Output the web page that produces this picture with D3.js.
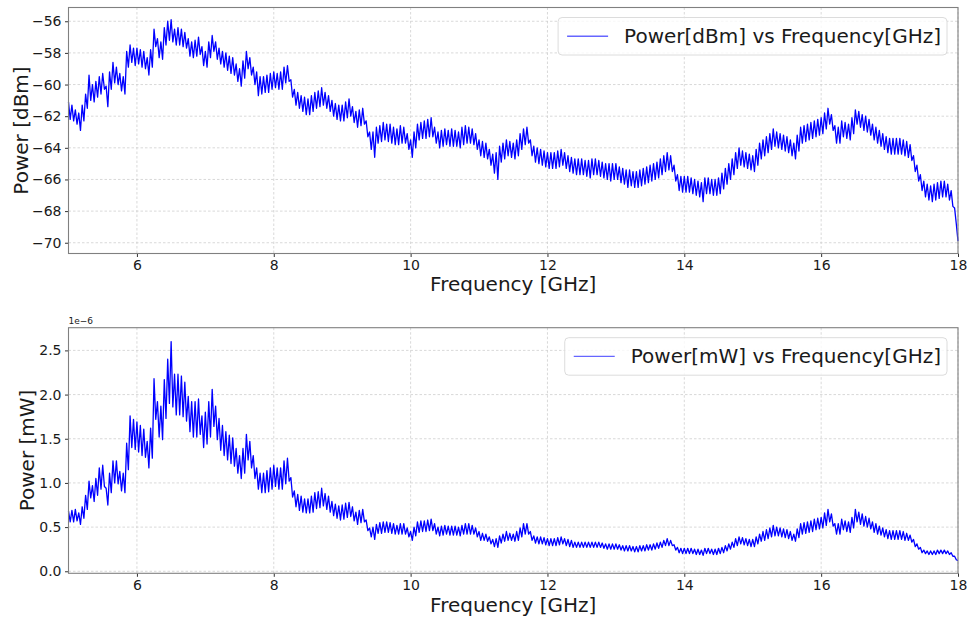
<!DOCTYPE html>
<html lang="en">
<head>
<meta charset="UTF-8">
<title>Power vs Frequency</title>
<script src="https://d3js.org/d3.v7.min.js"></script>
<style>
  body { margin: 0; background: #fff; }
  svg text { font-family: "DejaVu Sans", sans-serif; fill: #1a1a1a; }
</style>
</head>
<body>
<svg id="chart" width="967" height="619"></svg>
<script>
// sweep: 5 GHz to 18 GHz, one reading every 0.025 GHz (each row = 0.5 GHz)
const freqStart = 5;
const freqStep = 0.025;

// Power in dBm
const powerDbm = [
  -61.1,-62.2,-61.3,-62.3,-61.6,-62.5,-61.8,-62.9,-61.3,-62.3,-60.6,-61.5,-59.4,-61.0,-60.0,-61.1,-59.8,-60.8,-59.5,-60.6,
  -59.3,-60.3,-60.1,-61.4,-59.2,-60.3,-58.6,-59.9,-58.9,-60.0,-59.3,-60.4,-59.5,-60.6,-57.9,-58.9,-57.5,-58.6,-57.7,-58.8,
  -57.7,-58.7,-57.8,-58.9,-57.9,-59.0,-58.3,-59.4,-57.8,-58.9,-56.5,-57.6,-57.1,-58.3,-57.3,-58.4,-56.4,-57.5,-56.0,-57.2,
  -55.9,-57.3,-56.5,-57.5,-56.4,-57.5,-56.5,-57.6,-56.7,-57.7,-57.1,-58.2,-57.3,-58.3,-57.2,-58.2,-57.0,-58.1,-57.6,-58.8,
  -57.9,-58.9,-57.3,-58.3,-56.9,-57.9,-57.3,-58.4,-57.7,-58.7,-57.9,-58.9,-58.0,-59.1,-58.2,-59.3,-58.3,-59.4,-58.7,-59.8,
  -59.0,-60.1,-58.5,-59.6,-57.9,-59.0,-58.3,-59.4,-58.9,-60.0,-59.2,-60.7,-59.5,-60.6,-59.5,-60.5,-59.4,-60.5,-59.3,-60.3,
  -59.2,-60.2,-59.3,-60.3,-59.2,-60.3,-58.9,-59.9,-58.8,-59.8,-59.7,-60.8,-60.3,-61.3,-60.5,-61.5,-60.7,-61.7,-60.8,-61.9,
  -60.9,-61.9,-60.7,-61.7,-60.5,-61.5,-60.4,-61.4,-60.2,-61.3,-60.5,-61.5,-60.7,-61.7,-61.0,-62.0,-61.2,-62.2,-61.3,-62.3,
  -61.3,-62.3,-61.1,-62.1,-60.9,-62.0,-61.4,-62.4,-61.7,-62.7,-61.6,-62.6,-61.5,-62.5,-62.3,-63.3,-63.0,-64.1,-63.0,-64.6,
  -62.7,-63.7,-62.6,-63.6,-62.4,-63.5,-62.5,-63.6,-62.5,-63.7,-62.7,-63.8,-62.8,-63.8,-62.6,-63.7,-62.7,-63.7,-63.1,-64.1,
  -63.5,-64.6,-63.0,-64.0,-62.5,-63.5,-62.4,-63.4,-62.3,-63.4,-62.2,-63.3,-62.1,-63.3,-62.7,-63.7,-63.0,-64.0,-62.9,-63.9,
  -62.8,-63.8,-62.9,-63.9,-62.8,-63.9,-62.9,-63.9,-63.0,-64.0,-62.7,-63.8,-62.6,-63.7,-62.7,-63.7,-62.8,-63.8,-63.1,-64.1,
  -63.5,-64.5,-63.6,-64.6,-63.7,-64.7,-64.1,-65.1,-64.4,-65.6,-64.3,-66.0,-63.9,-64.9,-63.7,-64.7,-63.5,-64.5,-63.6,-64.6,
  -63.7,-64.7,-63.5,-64.5,-63.1,-64.1,-62.8,-63.8,-62.7,-63.7,-63.5,-64.5,-63.9,-64.9,-64.0,-65.0,-64.1,-65.1,-64.2,-65.2,
  -64.3,-65.3,-64.3,-65.3,-64.3,-65.3,-64.2,-65.2,-64.1,-65.1,-64.3,-65.3,-64.5,-65.5,-64.6,-65.6,-64.7,-65.7,-64.7,-65.7,
  -64.7,-65.7,-64.8,-65.8,-64.8,-65.9,-64.7,-65.7,-64.7,-65.7,-64.8,-65.8,-64.9,-65.9,-65.0,-66.0,-65.0,-66.1,-65.0,-66.0,
  -65.0,-66.0,-65.2,-66.2,-65.3,-66.3,-65.4,-66.5,-65.4,-66.4,-65.5,-66.5,-65.5,-66.5,-65.4,-66.4,-65.3,-66.3,-65.2,-66.2,
  -65.1,-66.1,-65.0,-66.0,-64.9,-65.9,-64.7,-65.7,-64.5,-65.5,-64.3,-65.4,-64.5,-65.5,-65.1,-66.1,-65.7,-66.7,-65.8,-66.8,
  -65.8,-66.8,-65.8,-66.8,-65.9,-66.9,-66.0,-67.0,-66.1,-67.1,-66.2,-67.4,-65.9,-66.9,-65.9,-66.9,-66.0,-67.0,-66.0,-67.0,
  -65.9,-66.9,-65.6,-66.6,-65.3,-66.3,-65.0,-66.0,-64.7,-65.7,-64.3,-65.3,-64.0,-65.1,-64.2,-65.2,-64.3,-65.3,-64.4,-65.4,
  -64.5,-65.5,-64.1,-65.1,-63.7,-64.7,-63.5,-64.5,-63.3,-64.3,-63.1,-64.1,-62.8,-63.9,-63.0,-64.0,-63.1,-64.1,-63.2,-64.2,
  -63.3,-64.3,-63.5,-64.5,-63.7,-64.7,-63.2,-64.2,-62.7,-63.7,-62.6,-63.6,-62.5,-63.5,-62.4,-63.4,-62.3,-63.3,-62.2,-63.2,
  -62.1,-63.1,-61.8,-62.8,-61.5,-62.5,-61.9,-62.9,-62.6,-63.7,-62.7,-63.7,-62.3,-63.3,-62.4,-63.4,-62.5,-63.5,-62.1,-63.1,
  -61.6,-62.5,-61.7,-62.7,-61.9,-62.9,-62.0,-63.0,-62.2,-63.2,-62.5,-63.5,-62.7,-63.7,-62.9,-63.9,-63.1,-64.1,-63.3,-64.3,
  -63.4,-64.4,-63.4,-64.4,-63.4,-64.4,-63.4,-64.4,-63.5,-64.5,-63.6,-64.6,-63.8,-64.8,-64.5,-65.5,-65.1,-66.1,-65.7,-66.7,
  -66.1,-67.1,-66.3,-67.3,-66.4,-67.4,-66.3,-67.3,-66.2,-67.2,-66.1,-67.1,-66.1,-67.1,-66.3,-67.3,-66.7,-67.7,-67.8,-68.8,
  -69.9
];

// Power in mW (x 1e-6)
const powerMw = [
  0.68,0.56,0.69,0.56,0.70,0.57,0.66,0.53,0.73,0.60,0.86,0.70,1.02,0.83,0.97,0.79,1.05,0.86,1.17,0.93,
  1.20,0.96,0.94,0.75,1.11,0.89,1.25,1.00,1.25,0.99,1.13,0.91,1.11,0.89,1.45,1.15,1.76,1.40,1.72,1.38,
  1.69,1.35,1.65,1.31,1.61,1.29,1.47,1.17,1.62,1.28,2.18,1.72,1.92,1.52,1.87,1.49,2.17,1.73,2.40,1.90,
  2.60,1.86,2.23,1.77,2.23,1.77,2.21,1.75,2.14,1.70,1.98,1.58,1.92,1.52,1.92,1.52,1.95,1.55,1.76,1.40,
  1.80,1.44,1.92,1.52,2.06,1.64,1.87,1.49,1.73,1.37,1.65,1.31,1.58,1.26,1.54,1.22,1.51,1.19,1.39,1.11,
  1.31,1.05,1.39,1.11,1.55,1.26,1.47,1.17,1.31,1.05,1.17,0.93,1.11,0.89,1.11,0.89,1.14,0.90,1.17,0.93,
  1.20,0.96,1.17,0.93,1.17,0.93,1.25,0.99,1.28,1.02,1.06,0.84,0.91,0.73,0.87,0.69,0.85,0.67,0.82,0.66,
  0.82,0.66,0.85,0.67,0.89,0.71,0.90,0.72,0.94,0.74,0.88,0.70,0.85,0.67,0.79,0.63,0.76,0.60,0.74,0.58,
  0.75,0.59,0.77,0.61,0.78,0.62,0.73,0.57,0.67,0.53,0.69,0.55,0.70,0.56,0.58,0.46,0.49,0.39,0.50,0.36,
  0.53,0.43,0.55,0.43,0.56,0.44,0.56,0.44,0.55,0.43,0.54,0.42,0.52,0.42,0.54,0.42,0.54,0.42,0.49,0.39,
  0.45,0.35,0.50,0.40,0.56,0.44,0.57,0.45,0.57,0.45,0.58,0.46,0.59,0.46,0.54,0.42,0.50,0.40,0.51,0.41,
  0.52,0.42,0.51,0.41,0.51,0.41,0.51,0.41,0.50,0.40,0.52,0.42,0.54,0.42,0.54,0.42,0.52,0.42,0.49,0.39,
  0.45,0.35,0.43,0.35,0.42,0.34,0.39,0.31,0.36,0.28,0.37,0.27,0.40,0.32,0.42,0.34,0.45,0.35,0.43,0.35,
  0.42,0.34,0.45,0.35,0.49,0.39,0.54,0.42,0.54,0.42,0.45,0.35,0.40,0.32,0.39,0.31,0.39,0.31,0.38,0.30,
  0.37,0.29,0.37,0.29,0.37,0.29,0.38,0.30,0.39,0.31,0.37,0.29,0.36,0.28,0.35,0.27,0.33,0.27,0.33,0.27,
  0.33,0.27,0.33,0.27,0.33,0.27,0.33,0.27,0.33,0.27,0.33,0.27,0.32,0.26,0.31,0.25,0.31,0.25,0.31,0.25,
  0.31,0.25,0.30,0.24,0.29,0.23,0.29,0.23,0.29,0.23,0.28,0.22,0.28,0.22,0.29,0.23,0.29,0.23,0.30,0.24,
  0.30,0.24,0.31,0.25,0.32,0.26,0.33,0.27,0.35,0.29,0.37,0.29,0.35,0.29,0.30,0.24,0.27,0.21,0.26,0.20,
  0.26,0.20,0.26,0.20,0.26,0.20,0.25,0.19,0.25,0.19,0.24,0.18,0.26,0.20,0.26,0.20,0.25,0.19,0.25,0.19,
  0.26,0.20,0.27,0.21,0.29,0.23,0.31,0.25,0.33,0.27,0.37,0.29,0.39,0.31,0.38,0.30,0.37,0.29,0.36,0.28,
  0.36,0.28,0.39,0.31,0.42,0.34,0.45,0.35,0.47,0.37,0.49,0.39,0.52,0.40,0.50,0.40,0.49,0.39,0.48,0.38,
  0.47,0.37,0.45,0.35,0.42,0.34,0.48,0.38,0.54,0.42,0.55,0.43,0.56,0.44,0.57,0.45,0.59,0.47,0.60,0.48,
  0.61,0.49,0.66,0.52,0.70,0.56,0.65,0.51,0.54,0.42,0.54,0.42,0.59,0.47,0.57,0.45,0.56,0.44,0.61,0.49,
  0.70,0.56,0.67,0.53,0.65,0.51,0.62,0.50,0.60,0.48,0.56,0.44,0.54,0.42,0.51,0.41,0.49,0.39,0.47,0.37,
  0.46,0.36,0.46,0.36,0.46,0.36,0.46,0.36,0.45,0.35,0.43,0.35,0.41,0.33,0.36,0.28,0.31,0.25,0.27,0.21,
  0.24,0.20,0.23,0.19,0.23,0.19,0.23,0.19,0.24,0.20,0.24,0.20,0.24,0.20,0.23,0.19,0.21,0.17,0.17,0.13,
  0.12
];

const freqTicks = [6, 8, 10, 12, 14, 16, 18];
const dbmTicks = [-70, -68, -66, -64, -62, -60, -58, -56];
const mwTicks = [0, 0.5, 1.0, 1.5, 2.0, 2.5];

const svg = d3.select('#chart');
const left = 68.5, right = 958;

const x = d3.scaleLinear().domain([5, 18]).range([left, right]);

const panels = [
  {
    values: powerDbm, ticks: dbmTicks, fmt: d3.format('d'),
    domain: [-70.68, -55.13], top: 7.5, bottom: 253.5,
    yLabel: 'Power [dBm]', yLabelX: 21, xLabelY: 284,
    legend: 'Power[dBm] vs Frequency[GHz]', offset: null
  },
  {
    values: powerMw, ticks: mwTicks, fmt: d3.format('.1f'),
    domain: [-0.023, 2.757], top: 327.7, bottom: 573.3,
    yLabel: 'Power [mW]', yLabelX: 27, xLabelY: 605,
    legend: 'Power[mW] vs Frequency[GHz]', offset: '1e\u22126'
  }
];

panels.forEach(p => {
  const y = d3.scaleLinear().domain(p.domain).range([p.bottom, p.top]);
  const g = svg.append('g');

  // grid
  g.append('g').selectAll('line').data(freqTicks).join('line')
    .attr('x1', d => x(d)).attr('x2', d => x(d))
    .attr('y1', p.top).attr('y2', p.bottom)
    .attr('stroke', '#cfcfcf').attr('stroke-width', 0.8).attr('stroke-dasharray', '2.5,2');
  g.append('g').selectAll('line').data(p.ticks).join('line')
    .attr('x1', left).attr('x2', right)
    .attr('y1', d => y(d)).attr('y2', d => y(d))
    .attr('stroke', '#cfcfcf').attr('stroke-width', 0.8).attr('stroke-dasharray', '2.5,2');

  // trace
  const line = d3.line()
    .x((d, i) => x(freqStart + i * freqStep))
    .y(d => y(d));
  g.append('path')
    .datum(p.values)
    .attr('d', line)
    .attr('fill', 'none')
    .attr('stroke', '#0000ff')
    .attr('stroke-width', 1.3)
    .attr('stroke-linejoin', 'round');

  // axes
  const xAxis = g.append('g')
    .attr('transform', `translate(0,${p.bottom})`)
    .call(d3.axisBottom(x).tickValues(freqTicks).tickFormat(d3.format('d')).tickSize(3.5).tickPadding(3.5));
  const yAxis = g.append('g')
    .attr('transform', `translate(${left},0)`)
    .call(d3.axisLeft(y).tickValues(p.ticks).tickFormat(p.fmt).tickSize(3.5).tickPadding(3.5));
  [xAxis, yAxis].forEach(a => {
    a.select('.domain').remove();
    a.selectAll('.tick line').attr('stroke', '#333');
    a.selectAll('.tick text').attr('font-size', 14).attr('fill', '#1a1a1a');
  });

  // frame
  g.append('rect')
    .attr('x', left).attr('y', p.top)
    .attr('width', right - left).attr('height', p.bottom - p.top)
    .attr('fill', 'none').attr('stroke', '#808080').attr('stroke-width', 1.1);

  // labels
  g.append('text')
    .attr('x', (left + right) / 2).attr('y', p.xLabelY)
    .attr('text-anchor', 'middle').attr('dominant-baseline', 'central')
    .attr('font-size', 20).text('Frequency [GHz]');
  g.append('text')
    .attr('transform', `translate(${p.yLabelX},${(p.top + p.bottom) / 2}) rotate(-90)`)
    .attr('text-anchor', 'middle').attr('dominant-baseline', 'central')
    .attr('font-size', 20).text(p.yLabel);
  if (p.offset) {
    g.append('text')
      .attr('x', left).attr('y', p.top - 4)
      .attr('font-size', 9).text(p.offset);
  }

  // legend
  const lg = g.append('g');
  const box = lg.append('rect');
  const lt = lg.append('text')
    .attr('font-size', 20).attr('dominant-baseline', 'central').text(p.legend);
  const tw = lt.node().getComputedTextLength();
  const bw = tw + 72, bh = 37.5;
  const bx = right - 11 - bw, by = p.top + 10;
  box.attr('x', bx).attr('y', by).attr('width', bw).attr('height', bh)
    .attr('rx', 4).attr('fill', '#fff').attr('fill-opacity', 0.8)
    .attr('stroke', '#dcdcdc').attr('stroke-width', 1);
  lg.append('line')
    .attr('x1', bx + 9).attr('x2', bx + 50)
    .attr('y1', by + bh / 2).attr('y2', by + bh / 2)
    .attr('stroke', '#0000ff').attr('stroke-opacity', 0.6).attr('stroke-width', 1.3);
  lt.attr('x', bx + 66).attr('y', by + bh / 2);
});
</script>
</body>
</html>
